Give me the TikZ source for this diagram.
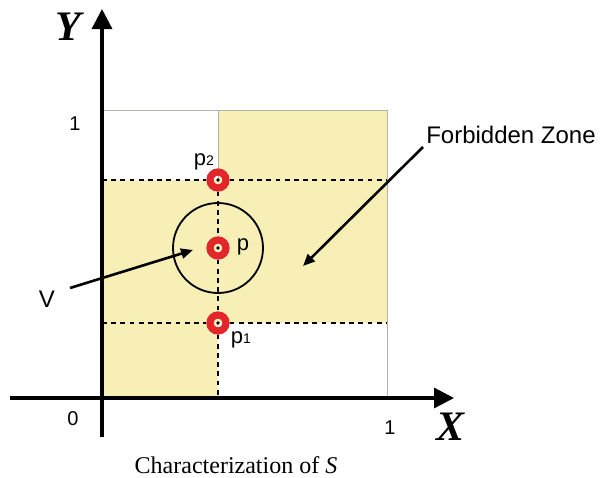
\documentclass[tikz,border=0pt]{standalone}
\usepackage{fontspec}
\setmainfont{Liberation Sans}
\newfontfamily\capfont{Liberation Serif}
\usepackage{xcolor}
\usetikzlibrary{arrows.meta, positioning}
\definecolor{zonecolor}{HTML}{F7EFB5}
\definecolor{pointcolor}{HTML}{E3262B}
\definecolor{edgecolor}{HTML}{B4B4AA}
\newcommand{\subdigit}[1]{{\fontsize{7}{8}\selectfont #1}}

\begin{document}
\begin{tikzpicture}[
    x=0.5pt, y=-0.5pt,
    axis/.style={line width=1.6pt, -{Triangle[length=10pt, width=10pt]}},
    border/.style={draw=edgecolor, line width=0.5pt},
    guide/.style={line width=0.9pt, dash pattern=on 2.4pt off 2.2pt},
    ring/.style={circle, draw=pointcolor, line width=3.6pt, minimum size=8pt, inner sep=0pt},
    pointer/.style={line width=1.3pt, -{Triangle[length=6pt, width=5pt]}},
    lbl/.style={font=\fontsize{11}{13}\selectfont, inner sep=0pt},
    num/.style={font=\fontsize{10}{12}\selectfont, inner sep=0pt},
    axlbl/.style={font=\capfont\bfseries\itshape\fontsize{21}{24}\selectfont, inner sep=0pt}
]
    \useasboundingbox (0,0) rectangle (604,477);

    % Corners of the unit square
    \coordinate (o) at (102,398);
    \coordinate (xa) at (387,398);
    \coordinate (ya) at (102,110);
    \coordinate (ua) at (387,110);
    \coordinate (ma) at (218,110);

    % Forbidden zone
    \fill[zonecolor] (102,180) rectangle (218,398);
    \fill[zonecolor] (218,110) rectangle (387,323);
    \draw[border] (ya) -- (ua) -- (xa);
    \draw[border] (ma) -- (218,180);

    % Points and the set V
    \node[ring] (p2) at (218,180) {};
    \node[ring] (p) at (218,248) {};
    \node[ring] (p1) at (218,323) {};
    \node[draw, circle, line width=0.9pt, minimum size=45pt, inner sep=0pt] (vset) at (p) {};

    % Dashed guides
    \draw[guide] (102,180) -- (p2) -- (387,180);
    \draw[guide] (102,323) -- (p1) -- (387,323);
    \draw[guide] (p2) -- (p) -- (p1) -- (218,398);
    \foreach \q in {p2,p,p1}
        \fill (\q) circle (0.9pt);

    % Axes
    \coordinate (xstart) at (10,398);
    \coordinate (xend) at (454,398);
    \coordinate (ystart) at (102,437);
    \coordinate (yend) at (102,9);
    \draw[axis] (xstart) -- (xend);
    \draw[axis] (ystart) -- (yend);

    % Labels
    \node[axlbl] (ylab) at (68,27) {Y};
    \node[axlbl] (xlab) at (450,427) {X};
    \node[num] (one-y) at (75,124) {1};
    \node[num] (zero) at (73,419) {0};
    \node[num] (one-x) at (390,428) {1};
    \node[lbl] (p2lab) at (204,162) {p\subdigit{2}};
    \node[lbl] (plab) at (243,247) {p};
    \node[lbl] (p1lab) at (241,340) {p\subdigit{1}};
    \node[lbl, font=\fontsize{12}{14}\selectfont] (vlab) at (47,299) {V};
    \node[lbl, font=\fontsize{12}{14}\selectfont] (zone) at (511,135) {Forbidden Zone};

    % Pointers
    \coordinate (vtip) at (193,250);
    \coordinate (ztip) at (303,266);
    \draw[pointer] (70,288) -- (vtip);
    \draw[pointer] (423,147) -- (ztip);

    % Caption
    \node[font=\capfont\fontsize{12}{14}\selectfont, inner sep=0pt] (caption) at (236,465)
        {Characterization of \textit{S}};
\end{tikzpicture}
\end{document}
